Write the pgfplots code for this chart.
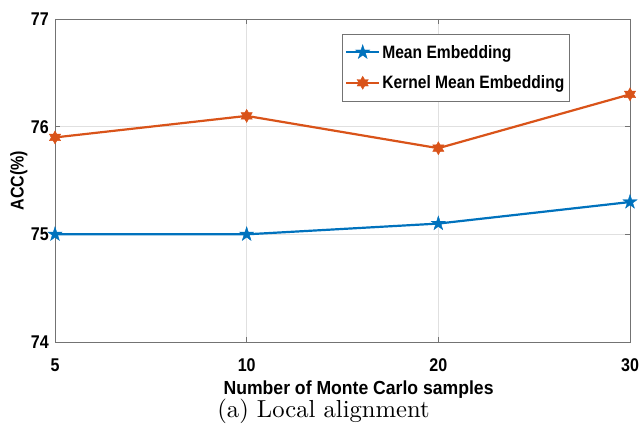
\documentclass[border=0pt]{standalone}
\usepackage{fontspec}
\usepackage{pgfplots}
\pgfplotsset{compat=1.18}
\newfontfamily\hel[FakeStretch=0.87]{Liberation Sans}
\newfontfamily\helx[FakeStretch=0.93]{Liberation Sans}
\definecolor{mblue}{rgb}{0,0.447,0.741}
\definecolor{morange}{rgb}{0.85,0.325,0.098}
\pgfdeclareplotmark{pentagram}{%
  \pgfpathmoveto{\pgfpointpolar{90}{\pgfplotmarksize}}%
  \pgfpathlineto{\pgfpointpolar{126}{0.382*\pgfplotmarksize}}%
  \pgfpathlineto{\pgfpointpolar{162}{\pgfplotmarksize}}%
  \pgfpathlineto{\pgfpointpolar{198}{0.382*\pgfplotmarksize}}%
  \pgfpathlineto{\pgfpointpolar{234}{\pgfplotmarksize}}%
  \pgfpathlineto{\pgfpointpolar{270}{0.382*\pgfplotmarksize}}%
  \pgfpathlineto{\pgfpointpolar{306}{\pgfplotmarksize}}%
  \pgfpathlineto{\pgfpointpolar{342}{0.382*\pgfplotmarksize}}%
  \pgfpathlineto{\pgfpointpolar{18}{\pgfplotmarksize}}%
  \pgfpathlineto{\pgfpointpolar{54}{0.382*\pgfplotmarksize}}%
  \pgfpathclose\pgfusepathqfillstroke}
\pgfdeclareplotmark{hexagram}{%
  \pgfpathmoveto{\pgfpointpolar{90}{\pgfplotmarksize}}%
  \pgfpathlineto{\pgfpointpolar{120}{0.577*\pgfplotmarksize}}%
  \pgfpathlineto{\pgfpointpolar{150}{\pgfplotmarksize}}%
  \pgfpathlineto{\pgfpointpolar{180}{0.577*\pgfplotmarksize}}%
  \pgfpathlineto{\pgfpointpolar{210}{\pgfplotmarksize}}%
  \pgfpathlineto{\pgfpointpolar{240}{0.577*\pgfplotmarksize}}%
  \pgfpathlineto{\pgfpointpolar{270}{\pgfplotmarksize}}%
  \pgfpathlineto{\pgfpointpolar{300}{0.577*\pgfplotmarksize}}%
  \pgfpathlineto{\pgfpointpolar{330}{\pgfplotmarksize}}%
  \pgfpathlineto{\pgfpointpolar{0}{0.577*\pgfplotmarksize}}%
  \pgfpathlineto{\pgfpointpolar{30}{\pgfplotmarksize}}%
  \pgfpathlineto{\pgfpointpolar{60}{0.577*\pgfplotmarksize}}%
  \pgfpathclose\pgfusepathqfillstroke}
\begin{document}
\begin{tikzpicture}
\useasboundingbox (-55bp,-89bp) rectangle (585bp,342bp);
\begin{axis}[
  scale only axis, width=575bp, height=323bp,
  at={(0,0)}, anchor=south west,
  xmin=0, xmax=3, ymin=74, ymax=77,
  xtick={0,1,2,3}, xticklabels={5,10,20,30},
  ytick={74,75,76,77},
  /pgf/number format/assume math mode=true,
  grid=major, major grid style={black!12, line width=0.5bp},
  axis line style={black!55, line width=0.7bp},
  tick style={black!55, line width=0.6bp},
  tick align=inside, major tick length=5bp,
  xticklabel style={font=\fontsize{18.5}{20}\selectfont\hel\bfseries, anchor=base, yshift=-29bp, inner sep=0pt},
  yticklabel style={font=\fontsize{18.5}{20}\selectfont\hel\bfseries, anchor=east, xshift=-6bp, inner sep=0pt},
  xlabel={Number of Monte Carlo samples},
  xlabel style={font=\fontsize{19}{21}\selectfont\helx\bfseries, at={(axis description cs:0.528,-0.164)}, anchor=base, inner sep=0pt},
  ylabel={ACC(\%)},
  ylabel style={font=\fontsize{18.5}{20}\selectfont\hel\bfseries, at={(axis description cs:-0.063,0.5)}, anchor=center, inner sep=0pt},
  legend style={at={(axis description cs:0.499,0.954)}, anchor=north west, draw=black!55, fill=white, font=\fontsize{18}{20}\selectfont\hel\bfseries, inner xsep=3bp, inner ysep=9bp, row sep=12bp},
  legend cell align=left,
  legend image code/.code={\draw[mark repeat=2,mark phase=2,#1] plot coordinates {(0bp,0bp) (16.5bp,0bp) (33bp,0bp)};},
]
\addplot[mblue, line width=2.2bp, mark=pentagram, mark size=7.5bp, mark options={solid, fill=mblue, line width=0.4bp}]
  coordinates {(0,75.0) (1,75.0) (2,75.1) (3,75.3)};
\addlegendentry{Mean Embedding}
\addplot[morange, line width=2.2bp, mark=hexagram, mark size=6.5bp, mark options={solid, fill=morange, line width=0.4bp}]
  coordinates {(0,75.9) (1,76.1) (2,75.8) (3,76.3)};
\addlegendentry{Kernel Mean Embedding}
\end{axis}
\node[anchor=base, inner sep=0pt, scale=2.47, transform shape, font=\fontsize{10}{12}\selectfont] at (268.5bp,-75bp) {(a) Local alignment};
\end{tikzpicture}
\end{document}
